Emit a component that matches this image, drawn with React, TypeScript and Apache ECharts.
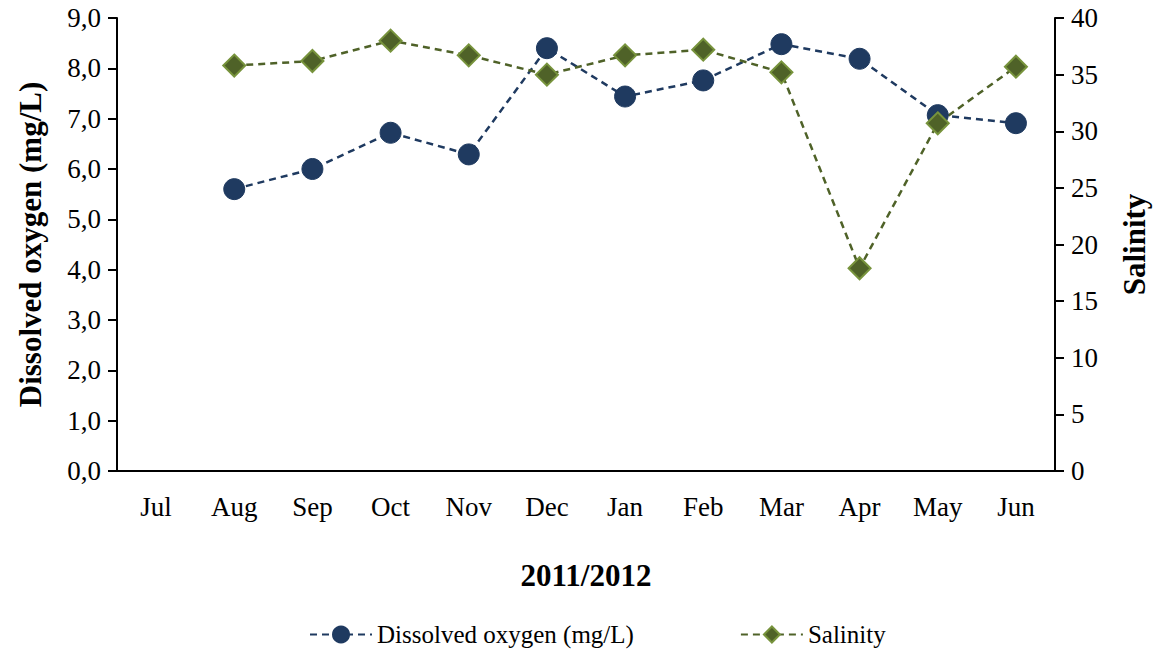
import React, { useEffect, useRef } from "react";
import * as echarts from "echarts";

const months = ["Jul", "Aug", "Sep", "Oct", "Nov", "Dec", "Jan", "Feb", "Mar", "Apr", "May", "Jun"];
const dissolvedOxygen = [null, 5.6, 6.0, 6.72, 6.29, 8.4, 7.44, 7.76, 8.48, 8.19, 7.07, 6.91];
const salinity = [null, 35.8, 36.2, 38.0, 36.7, 35.0, 36.7, 37.2, 35.2, 17.9, 30.7, 35.7];

const FONT = "'Liberation Serif', 'Times New Roman', serif";

export default function App() {
  const ref = useRef<HTMLDivElement>(null);
  useEffect(() => {
    const chart = echarts.init(ref.current!, null, { renderer: "svg" });
    chart.setOption({
      animation: false,
      backgroundColor: "#ffffff",
      textStyle: { fontFamily: FONT, color: "#000" },
      grid: { left: 117, right: 104, top: 18, bottom: 183, containLabel: false, outerBoundsMode: "none" },
      legend: {
        top: 617,
        left: 304,
        itemWidth: 62,
        itemHeight: 20,
        itemGap: 106,
        textStyle: { fontFamily: FONT, fontSize: 25, color: "#000" },
        data: ["Dissolved oxygen (mg/L)", "Salinity"],
      },
      xAxis: {
        type: "category",
        data: months,
        boundaryGap: true,
        name: "2011/2012",
        nameLocation: "middle",
        nameGap: 89,
        nameTextStyle: { fontFamily: FONT, fontSize: 31, fontWeight: "bold", color: "#000" },
        axisLine: { lineStyle: { color: "#000", width: 2 } },
        axisTick: { show: false },
        axisLabel: { fontFamily: FONT, fontSize: 27, color: "#000", margin: 22 },
      },
      yAxis: [
        {
          type: "value",
          min: 0,
          max: 9,
          interval: 1,
          position: "left",
          name: "Dissolved oxygen (mg/L)",
          nameLocation: "middle",
          nameRotate: 90,
          nameGap: 71,
          nameTextStyle: { fontFamily: FONT, fontSize: 31, fontWeight: "bold", color: "#000" },
          axisLine: { show: true, lineStyle: { color: "#000", width: 2 } },
          axisTick: { show: true, length: 9, lineStyle: { color: "#000", width: 2 } },
          splitLine: { show: false },
          axisLabel: {
            fontFamily: FONT,
            fontSize: 27,
            color: "#000",
            margin: 16,
            formatter: (v: number) => v.toFixed(1).replace(".", ","),
          },
        },
        {
          type: "value",
          min: 0,
          max: 40,
          interval: 5,
          position: "right",
          name: "Salinity",
          nameLocation: "middle",
          nameRotate: 90,
          nameGap: 64,
          nameTextStyle: { fontFamily: FONT, fontSize: 31, fontWeight: "bold", color: "#000" },
          axisLine: { show: true, lineStyle: { color: "#000", width: 2 } },
          axisTick: { show: true, length: 9, lineStyle: { color: "#000", width: 2 } },
          splitLine: { show: false },
          axisLabel: { fontFamily: FONT, fontSize: 27, color: "#000", margin: 16 },
        },
      ],
      series: [
        {
          name: "Dissolved oxygen (mg/L)",
          type: "line",
          yAxisIndex: 0,
          data: dissolvedOxygen,
          symbol: "circle",
          symbolSize: 21,
          connectNulls: false,
          lineStyle: { color: "#1F3A60", width: 2.5, type: [7, 5] },
          itemStyle: { color: "#1F3A60", borderColor: "#1F3A60", borderWidth: 1 },
        },
        {
          name: "Salinity",
          type: "line",
          yAxisIndex: 1,
          data: salinity,
          symbol: "diamond",
          symbolSize: [22, 22],
          lineStyle: { color: "#4F6228", width: 2.5, type: [7, 5] },
          itemStyle: { color: "#4F6228", borderColor: "#77933C", borderWidth: 2 },
        },
      ],
    });
    return () => chart.dispose();
  }, []);
  return (
    <div
      ref={ref}
      style={{ position: "absolute", left: 0, top: 0, width: 1159, height: 654 }}
    />
  );
}
